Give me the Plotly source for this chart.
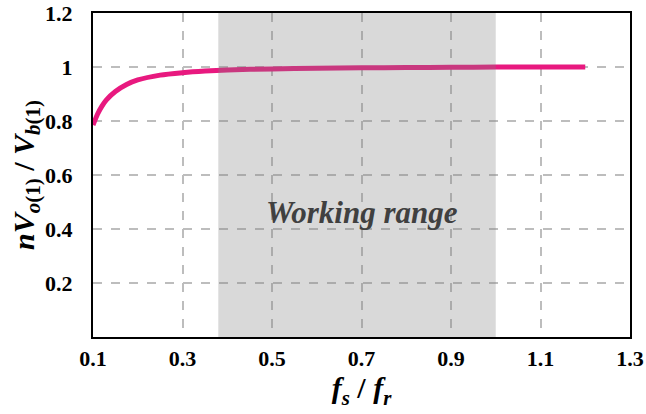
import plotly.graph_objects as go

# Normalised fundamental voltage gain vs. normalised switching frequency
fs_fr = [0.10, 0.11, 0.12, 0.13, 0.15, 0.175, 0.20, 0.25, 0.30, 0.35, 0.40,
         0.50, 0.60, 0.70, 0.80, 0.90, 1.00, 1.10, 1.20]
gain = [0.785, 0.825, 0.855, 0.878, 0.909, 0.935, 0.952, 0.970, 0.979, 0.985,
        0.989, 0.993, 0.995, 0.997, 0.998, 0.999, 1.000, 1.000, 1.000]

work_lo, work_hi = 0.38, 1.0
x_ticks = [0.1, 0.3, 0.5, 0.7, 0.9, 1.1, 1.3]
y_ticks = [0.2, 0.4, 0.6, 0.8, 1.0, 1.2]
y_tick_text = ["0.2", "0.4", "0.6", "0.8", "1", "1.2"]

serif = "Times New Roman"

fig = go.Figure()
fig.add_trace(go.Scatter(
    x=fs_fr, y=gain, mode="lines",
    line=dict(color="#e8197f", width=5, shape="spline", smoothing=0.6),
    hoverinfo="skip", showlegend=False,
))

# Shaded working range, drawn over the curve
fig.add_shape(type="rect", xref="x", yref="y", x0=work_lo, x1=work_hi, y0=0, y1=1.2,
              fillcolor="#808080", opacity=0.3, line=dict(width=0), layer="above")

fig.add_annotation(x=0.70, y=0.46, xref="x", yref="y", showarrow=False,
                   text="<b><i>Working range</i></b>",
                   font=dict(family=serif, size=31, color="#404040"))

axis_common = dict(
    showline=True, linecolor="black", linewidth=2, mirror=True,
    showgrid=True, gridcolor="#bdbdbd", griddash="dash", gridwidth=1.5,
    zeroline=False, ticks="", automargin=False,
    tickfont=dict(family=serif, size=22, color="black"),
)

fig.update_xaxes(range=[0.1, 1.3], tickvals=x_ticks,
                 ticktext=[f"<b>{v:.1f}</b>" for v in x_ticks],
                 ticklabelstandoff=1,
                 title=dict(text="<b><i>f</i></b><sub><b><i>s</i></b></sub><b> / </b><b><i>f</i></b><sub><b><i>r</i></b></sub>",
                            font=dict(family=serif, size=30, color="black"), standoff=6),
                 **axis_common)
fig.update_yaxes(range=[0, 1.2], tickvals=y_ticks,
                 ticktext=[f"<b>{t}</b>" for t in y_tick_text],
                 ticklabelstandoff=14,
                 title=dict(text="<b><i>nV</i></b><sub><b><i>o</i>(1)</b></sub><b> / </b><b><i>V</i></b><sub><b><i>b</i>(1)</b></sub>",
                            font=dict(family=serif, size=30, color="black"), standoff=2),
                 **axis_common)

fig.update_layout(
    width=646, height=414,
    margin=dict(l=93, r=16, t=13, b=77),
    paper_bgcolor="white", plot_bgcolor="white",
    font=dict(family=serif),
)

fig.write_html("out.html")
